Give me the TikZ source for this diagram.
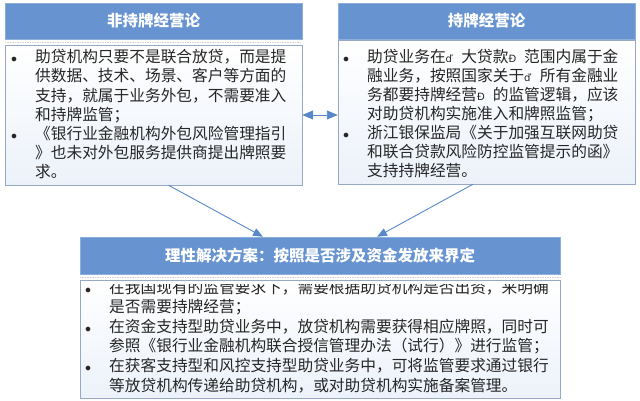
\documentclass[tikz,border=0pt]{standalone}
\usepackage{fontspec}
\setmainfont{Noto Sans CJK SC}
\newfontfamily\latfont{DejaVu Sans}
\usetikzlibrary{arrows.meta}

\definecolor{headblue}{RGB}{103,148,208}
\definecolor{framegray}{RGB}{150,168,198}
\definecolor{linkblue}{RGB}{88,136,200}
\definecolor{bodytint}{RGB}{236,242,250}

\newcommand{\bul}{\makebox[24pt][l]{\fontsize{12}{12}\selectfont$\bullet$}}
\newcommand{\ind}{\hspace*{24pt}}
\newcommand{\mojd}{\makebox[1em][l]{\latfont\fontsize{10}{10}\selectfont ď}}
\newcommand{\mojD}{\makebox[1em][l]{\latfont\fontsize{10}{10}\selectfont Đ}}

\begin{document}
\begin{tikzpicture}[x=1pt,y=-1pt]

      \tikzset{head/.style = {draw=headblue!75!white, fill=headblue, text=white, inner sep=0pt,
                              font=\bfseries\fontsize{15.5}{18}\selectfont}}
      \tikzset{body/.style = {draw=framegray, top color=white, bottom color=bodytint, inner sep=0pt}}
      \tikzset{list/.style = {anchor=base west, align=left, inner sep=0pt, text=black!85,
                              font=\fontsize{15.7}{19.2}\selectfont}}
      \tikzset{shadowline/.style = {draw=gray!35, densely dotted, line width=1.5pt}}
      \tikzset{link/.style = {draw=linkblue, line width=0.9pt, -{Triangle[length=10pt,width=8pt]}}}
      \useasboundingbox (0,0) rectangle (640,400);
      % boxes
      \node[body, minimum width=297, minimum height=140] (lbody) at (153.5,115) {};
      \node[head, minimum width=297, minimum height=36]  (lhead) at (153.5,21)  {非持牌经营论};
      \draw[shadowline] ([yshift=-3.5pt]lhead.south west) -- ([yshift=-3.5pt]lhead.south east);
      \node[body, minimum width=297, minimum height=144] (rbody) at (486.5,112) {};
      \node[head, minimum width=297, minimum height=36]  (rhead) at (486.5,21)  {持牌经营论};
      \node[body, minimum width=480, minimum height=118] (bbody) at (320,339)   {};
      \node[head, minimum width=480, minimum height=37]  (bhead) at (320,255.5) {理性解决方案：按照是否涉及资金发放来界定};
      \draw[shadowline] ([yshift=-3.5pt]bhead.south west) -- ([yshift=-3.5pt]bhead.south east);
      % texts (base = last line)
      \node[list] (ltext) at (11,177.9) {%
        \bul 助贷机构只要不是联合放贷，而是提\\
        \ind 供数据、技术、场景、客户等方面的\\
        \ind 支持，就属于业务外包，不需要准入\\
        \ind 和持牌监管；\\
        \bul 《银行业金融机构外包风险管理指引\\
        \ind 》也未对外包服务提供商提出牌照要\\
        \ind 求。};
      \node[list, font=\fontsize{15.7}{19}\selectfont] (rtext) at (343,176.7) {%
        \bul 助贷业务在\mojd 大贷款\mojD 范围内属于金\\
        \ind 融业务，按照国家关于\mojd 所有金融业\\
        \ind 务都要持牌经营\mojD 的监管逻辑，应该\\
        \ind 对助贷机构实施准入和牌照监管；\\
        \bul 浙江银保监局《关于加强互联网助贷\\
        \ind 和联合贷款风险防控监管提示的函》\\
        \ind 支持持牌经营。};
      \begin{scope}
        \clip (80,284) rectangle (560,398);
        \node[list, font=\fontsize{15.7}{19.6}\selectfont] (btext) at (85,391) {%
          \bul 在我国现有的监管要求下，需要根据助贷机构是否出资，来明确\\
          \ind 是否需要持牌经营；\\
          \bul 在资金支持型助贷业务中，放贷机构需要获得相应牌照，同时可\\
          \ind 参照《银行业金融机构联合授信管理办法（试行）》进行监管；\\
          \bul 在获客支持型和风控支持型助贷业务中，可将监管要求通过银行\\
          \ind 等放贷机构传递给助贷机构，或对助贷机构实施备案管理。};
      \end{scope}
      %arrows
      \draw[link, {Triangle[length=11pt,width=9pt]}-{Triangle[length=11pt,width=9pt]}]
        (lbody.east) -- (lbody.east -| rbody.west);
      \draw[link] ([xshift=15pt]lbody.south)   -- ([xshift=-57pt]bhead.north);
      \draw[link] ([xshift=-13.5pt]rbody.south) -- ([xshift=57pt]bhead.north);
\end{tikzpicture}
\end{document}
